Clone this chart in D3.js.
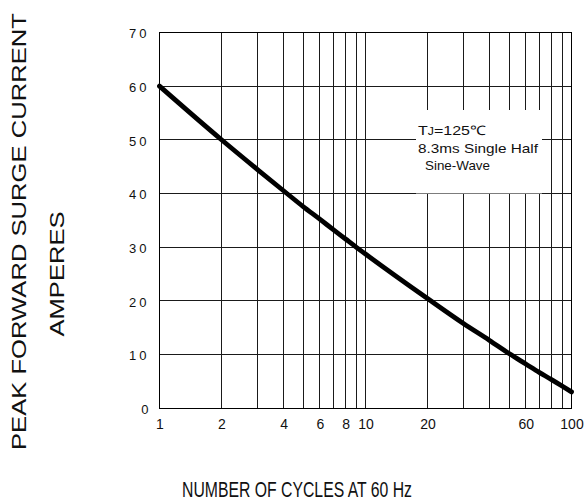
<!DOCTYPE html>
<html>
<head>
<meta charset="utf-8">
<script src="https://cdn.jsdelivr.net/npm/d3@7"></script>
<style>
  html, body { margin: 0; padding: 0; background: #fff; }
  svg { display: block; font-family: "Liberation Sans", Arial, sans-serif; }
</style>
</head>
<body>
<svg id="chart" width="584" height="501"></svg>
<script>
// ---- data ----
const cycles  = [1, 2, 3, 4, 5, 6, 7, 8, 9, 10, 20, 30, 40, 50, 60, 70, 80, 90, 100];
const current = [60, 50.0, 44.4, 40.5, 37.5, 35.2, 33.2, 31.5, 30.0, 28.7, 20.4, 15.7, 12.6, 10.1, 8.2, 6.6, 5.3, 4.1, 3.0];

const xTickLabels = [1, 2, 4, 6, 8, 10, 20, 60, 100];
const xGridValues = [2, 3, 4, 5, 6, 7, 8, 9, 10, 20, 30, 40, 50, 60, 70, 80, 90];
const yTickValues = [0, 10, 20, 30, 40, 50, 60, 70];

const yTitle1 = "PEAK FORWARD SURGE CURRENT";
const yTitle2 = "AMPERES";
const xTitle = "NUMBER OF CYCLES AT 60 Hz";
const noteLines = ["8.3ms Single Half", "Sine-Wave"];

// ---- layout ----
const svg = d3.select("#chart");
const L = 159.5, R = 571.5, T = 32.5, B = 408;
const ink = "#111";

const x = d3.scaleLog().domain([1, 100]).range([L, R]);
const y = d3.scaleLinear().domain([0, 70]).range([B, T]);

// grid
const grid = svg.append("g").attr("stroke", "#1a1a1a").attr("stroke-width", 1).attr("shape-rendering", "crispEdges");
grid.selectAll("line.v").data(xGridValues).join("line")
  .attr("x1", d => x(d)).attr("x2", d => x(d)).attr("y1", T).attr("y2", B);
grid.selectAll("line.h").data(yTickValues.filter(v => v > 0 && v < 70)).join("line")
  .attr("x1", L).attr("x2", R).attr("y1", d => y(d)).attr("y2", d => y(d));

// frame
svg.append("rect").attr("x", L).attr("y", T).attr("width", R - L).attr("height", B - T)
  .attr("fill", "none").attr("stroke", "#000").attr("stroke-width", 1).attr("shape-rendering", "crispEdges");

// annotation box (white, no border, covering the grid)
svg.append("rect").attr("x", 416).attr("y", 110).attr("width", 126).attr("height", y(40) - 110)
  .attr("fill", "#fff");
const note = svg.append("g").attr("font-size", 13).attr("fill", ink);
const t1 = note.append("text").attr("x", 418).attr("y", 135).attr("textLength", 68).attr("lengthAdjust", "spacingAndGlyphs");
t1.append("tspan").text("T");
t1.append("tspan").attr("font-size", 10).text("J");
t1.append("tspan").text("=125\u2103");
note.append("text").attr("x", 418).attr("y", 153.3).attr("textLength", 120).attr("lengthAdjust", "spacingAndGlyphs").text(noteLines[0]);
note.append("text").attr("x", 425).attr("y", 170).attr("textLength", 65).attr("lengthAdjust", "spacingAndGlyphs").text(noteLines[1]);

// curve
const line = d3.line().x((d, i) => x(cycles[i])).y(d => y(d)).curve(d3.curveMonotoneX);
svg.append("path").datum(current).attr("d", line)
  .attr("fill", "none").attr("stroke", "#000").attr("stroke-width", 4.8)
  .attr("stroke-linecap", "round").attr("stroke-linejoin", "round");

// x axis labels
const xAxis = d3.axisBottom(x).tickValues(xTickLabels).tickFormat(d3.format("d")).tickSize(0).tickPadding(11.4);
const gx = svg.append("g").attr("transform", `translate(0,${B})`).call(xAxis);
gx.select(".domain").remove();
gx.selectAll("text").attr("font-size", 14).attr("font-family", "Liberation Sans, Arial, sans-serif").attr("fill", ink);

// y axis labels
const yAxis = d3.axisLeft(y).tickValues(yTickValues).tickFormat(d3.format("d")).tickSize(0).tickPadding(10);
const gy = svg.append("g").attr("transform", `translate(${L},0)`).call(yAxis);
gy.select(".domain").remove();
gy.selectAll("text").attr("font-size", 13).attr("font-family", "Liberation Sans, Arial, sans-serif").attr("fill", ink)
  .attr("dy", "0.42em").attr("letter-spacing", 3)
  .attr("dx", d => d === 0 ? 2 : 0);

// titles
svg.append("text").attr("transform", "translate(26,231.5) rotate(-90)")
  .attr("text-anchor", "middle").attr("font-size", 21).attr("fill", ink)
  .attr("textLength", 437).attr("lengthAdjust", "spacingAndGlyphs").text(yTitle1);
svg.append("text").attr("transform", "translate(64,274) rotate(-90)")
  .attr("text-anchor", "middle").attr("font-size", 21).attr("fill", ink)
  .attr("textLength", 125).attr("lengthAdjust", "spacingAndGlyphs").text(yTitle2);
svg.append("text").attr("x", 182).attr("y", 497)
  .attr("font-size", 22).attr("fill", ink)
  .attr("textLength", 230).attr("lengthAdjust", "spacingAndGlyphs").text(xTitle);
</script>
</body>
</html>
